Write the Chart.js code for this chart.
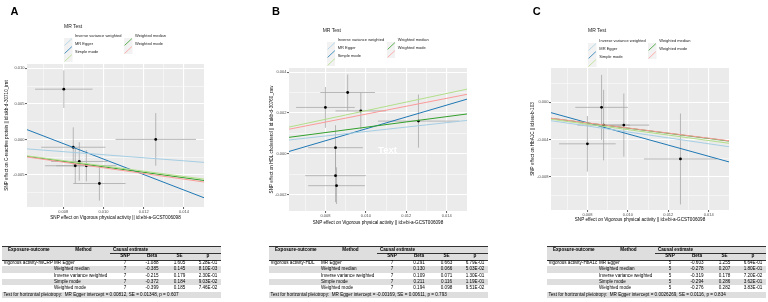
<!DOCTYPE html>
<html><head><meta charset="utf-8">
<script src="https://cdn.jsdelivr.net/npm/chart.js"></script>
<style>
body{margin:0;width:768px;height:302px;background:#fff;position:relative;overflow:hidden;font-family:"Liberation Sans",Arial,sans-serif}
#page{position:absolute;left:0;top:0;width:768px;height:302px;will-change:transform}
.lab{position:absolute;font-weight:bold;font-size:11px;line-height:11px;color:#000}
.lgt{position:absolute;font-size:5px;line-height:5px;color:#222;white-space:nowrap}
.lgi{position:absolute;font-size:4px;line-height:4px;color:#222;white-space:nowrap}
.key{position:absolute}
.tb{position:absolute;font-size:4.6px;color:#000;will-change:transform}
.tb .row{position:absolute;left:0;height:6.4px}
.tb span{position:absolute;top:0;line-height:6.4px;white-space:pre;z-index:2}
.tb .c{width:40px;text-align:center}
.tb .rule{position:absolute;height:0;z-index:1}
</style></head><body>
<div id="page"></div>
<script>
// shared x axis (exposure: Vigorous physical activity)
const xRange = [0.0062, 0.015];
const xTicks = [0.008, 0.010, 0.012, 0.014];
const xTickLabels = ['0.008', '0.010', '0.012', '0.014'];
const xMinor = [0.007, 0.009, 0.011, 0.013];
const xTitle = 'SNP effect on Vigorous physical activity || id:ebi-a-GCST006098';

const methods = ['MR Egger', 'Weighted median', 'Inverse variance weighted', 'Simple mode', 'Weighted mode'];
const methodColors = ['#1F78B4', '#33A02C', '#A6CEE3', '#B2DF8A', '#FB9A99'];
const legendCol1 = ['Inverse variance weighted', 'MR Egger', 'Simple mode'];
const legendCol2 = ['Weighted median', 'Weighted mode'];

// A: hsCRP
const aX   = [0.00803, 0.0126, 0.0085, 0.0088, 0.0086, 0.00915, 0.0098];
const aY   = [0.00706, 0.0000, -0.0011, -0.0031, -0.0037, -0.0037, -0.0062];
const aXse = [0.00143, 0.0020, 0.0016, 0.0014, 0.0015, 0.0015, 0.0013];
const aYse = [0.00264, 0.0037, 0.0028, 0.0027, 0.0025, 0.0022, 0.0024];
const aYRange = [-0.0095, 0.0106];
const aYTicks = [0.010, 0.005, 0.000, -0.005];
const aYTickLabels = ['0.010', '0.005', '0.000', '-0.005'];
const aYMinor = [0.0075, 0.0025, -0.0025, -0.0075];
const aYTitle = 'SNP effect on C-reactive protein || id:ukb-d-30710_irnt';
const aExposure = 'Vigorous activity-hsCRP';
const aNsnp = 7;
const aBeta = [-1.088, -0.385, -0.215, -0.372, -0.399];
const aSE = [1.605, 0.145, 0.179, 0.184, 0.185];
const aP = ['5.28E-01', '8.10E-03', '2.30E-01', '9.03E-02', '7.46E-02'];
const aEggerInt = 0.00812;
const aFooter = 'Test for horizontal pleiotropy:  MR Egger intercept = 0.00812, SE = 0.01348, p = 0.607';

// B: HDL
const bX   = [0.0080, 0.0091, 0.00975, 0.0126, 0.0085, 0.0085, 0.00855];
const bY   = [0.00227, 0.0030, 0.0021, 0.0016, 0.0003, -0.00107, -0.00156];
const bXse = [0.00145, 0.00135, 0.00125, 0.0020, 0.00135, 0.0015, 0.0014];
const bYse = [0.0010, 0.00088, 0.0009, 0.0013, 0.0011, 0.0013, 0.0009];
const bYRange = [-0.0028, 0.0042];
const bYTicks = [0.004, 0.002, 0.000, -0.002];
const bYTickLabels = ['0.004', '0.002', '0.000', '-0.002'];
const bYMinor = [0.003, 0.001, -0.001];
const bYTitle = 'SNP effect on HDL cholesterol || id:ukb-d-30760_raw';
const bExposure = 'Vigorous activity-HDL';
const bNsnp = 7;
const bBeta = [0.291, 0.130, 0.109, 0.211, 0.194];
const bSE = [0.663, 0.066, 0.071, 0.116, 0.098];
const bP = ['6.79E-01', '5.03E-02', '1.30E-01', '1.19E-01', '9.51E-02'];
const bEggerInt = -0.00169;
const bFooter = 'Test for horizontal pleiotropy:  MR Egger intercept = -0.00169, SE = 0.00611, p = 0.793';
const bNote = {x: 0.01107, y: 0.00015, text: 'Text'};

// C: HbA1c
const cX   = [0.0087, 0.0088, 0.0098, 0.0080, 0.0126];
const cY   = [-0.00054, -0.00245, -0.00245, -0.00447, -0.0061];
const cXse = [0.0013, 0.0013, 0.00125, 0.0014, 0.0018];
const cYse = [0.0035, 0.0038, 0.0034, 0.0030, 0.0049];
const cYRange = [-0.0116, 0.0037];
const cYTicks = [0.000, -0.004, -0.008];
const cYTickLabels = ['0.000', '-0.004', '-0.008'];
const cYMinor = [0.002, -0.002, -0.006, -0.010];
const cYTitle = 'SNP effect on HbA1C || id:ieu-b-103';
const cExposure = 'Vigorous activity-HbA1c';
const cNsnp = 5;
const cBeta = [-0.603, -0.278, -0.319, -0.294, -0.276];
const cSE = [1.255, 0.207, 0.178, 0.286, 0.282];
const cP = ['6.64E-01', '1.80E-01', '7.20E-02', '3.62E-01', '3.83E-01'];
const cEggerInt = 0.0026269;
const cFooter = 'Test for horizontal pleiotropy:  MR Egger intercept = 0.0026269, SE = 0.0116, p = 0.834';

Chart.defaults.font.family = '"Liberation Sans", Arial, sans-serif';
Chart.defaults.animation = false;

const page = document.getElementById('page');

const panels = [
  {lab: 'A', labX: 10.5, geo: {l: 27, t: 64, r: 204, b: 207, ytx: 7, xty: 218},
   leg: {x: 64, y: 26, tx: 75, tx2: 135}, tabX: 2,
   x: aX, y: aY, xse: aXse, yse: aYse, yr: aYRange, yt: aYTicks, ytl: aYTickLabels, ym: aYMinor, yTitle: aYTitle,
   expo: aExposure, n: aNsnp, beta: aBeta, se: aSE, p: aP, egg: aEggerInt, foot: aFooter},
  {lab: 'B', labX: 272, geo: {l: 289, t: 68, r: 467, b: 211, ytx: 272, xty: 222.7},
   leg: {x: 322.7, y: 30, tx: 337.7, tx2: 397.7}, tabX: 269,
   x: bX, y: bY, xse: bXse, yse: bYse, yr: bYRange, yt: bYTicks, ytl: bYTickLabels, ym: bYMinor, yTitle: bYTitle,
   expo: bExposure, n: bNsnp, beta: bBeta, se: bSE, p: bP, egg: bEggerInt, foot: bFooter, note: bNote},
  {lab: 'C', labX: 532.7, geo: {l: 551, t: 68, r: 729, b: 210, ytx: 532.7, xty: 220},
   leg: {x: 588, y: 30.7, tx: 599.3, tx2: 659.3}, tabX: 547,
   x: cX, y: cY, xse: cXse, yse: cYse, yr: cYRange, yt: cYTicks, ytl: cYTickLabels, ym: cYMinor, yTitle: cYTitle,
   expo: cExposure, n: cNsnp, beta: cBeta, se: cSE, p: cP, egg: cEggerInt, foot: cFooter},
];

function el(tag, cls, css, html) {
  const e = document.createElement(tag);
  if (cls) e.className = cls;
  if (css) e.style.cssText = css;
  if (html != null) e.innerHTML = html;
  return e;
}

function tickList(major, labels, minor) {
  return major.map((v, i) => ({value: v, lab: labels[i]}))
    .concat(minor.map(v => ({value: v, lab: '', minor: true})));
}

function axis(range, tks, title, pad, sizeKey, size) {
  return {
    type: 'linear', min: range[0], max: range[1], bounds: 'data',
    afterBuildTicks: s => { s.ticks = tks.map(o => Object.assign({}, o)); },
    afterFit: s => { s[sizeKey] = size; },
    grid: {
      color: '#fff',
      lineWidth: c => (c.tick && c.tick.minor ? 0.5 : 1.1),
      tickLength: 2,
      tickWidth: 0.8,
      tickColor: c => (c.tick && c.tick.minor ? 'rgba(0,0,0,0)' : '#333'),
    },
    border: {display: false},
    ticks: {autoSkip: false, maxRotation: 0, padding: 0.5, color: '#4d4d4d', font: {size: 4},
            callback: (v, i, t) => t[i].lab},
    title: {display: true, text: title, color: '#000', font: {size: 4.6}, padding: pad},
  };
}

function makeChart(p) {
  const g = p.geo, yw = 28, xh = 22, pt = 8, pr = 6, lh = 4.6 * 1.2;
  const W = g.r - g.l + yw + pr, H = g.b - g.t + pt + xh;
  const left = g.l - yw, top = g.t - pt;
  const cv = el('canvas', null, `position:absolute;left:${left}px;top:${top}px;width:${W}px;height:${H}px`);
  cv.width = W; cv.height = H;
  page.append(cv);

  const lines = methods.map((m, i) => ({
    label: m,
    data: xRange.map(x => ({x, y: (i === 0 ? p.egg : 0) + p.beta[i] * x})),
    showLine: true, pointRadius: 0, borderColor: methodColors[i], borderWidth: 1, order: 5 - i,
  }));
  const pts = {
    label: 'SNP', data: p.x.map((v, i) => ({x: v, y: p.y[i]})),
    pointRadius: 1.4, pointBackgroundColor: '#000', pointBorderWidth: 0, order: 10,
  };

  const panelBg = {
    id: 'panelBg',
    beforeDraw(c) {
      const a = c.chartArea, ctx = c.ctx;
      ctx.save(); ctx.fillStyle = '#EBEBEB'; ctx.fillRect(a.left, a.top, a.width, a.height); ctx.restore();
    }
  };
  const errBars = {
    id: 'errBars',
    beforeDatasetsDraw(c) {
      const {ctx, chartArea: a, scales: {x, y}} = c;
      ctx.save();
      ctx.beginPath(); ctx.rect(a.left, a.top, a.width, a.height); ctx.clip();
      ctx.strokeStyle = '#a8a8a8'; ctx.lineWidth = 0.8;
      p.x.forEach((xv, i) => {
        const px = x.getPixelForValue(xv), py = y.getPixelForValue(p.y[i]);
        ctx.beginPath();
        ctx.moveTo(x.getPixelForValue(xv - p.xse[i]), py);
        ctx.lineTo(x.getPixelForValue(xv + p.xse[i]), py);
        ctx.moveTo(px, y.getPixelForValue(p.y[i] - p.yse[i]));
        ctx.lineTo(px, y.getPixelForValue(p.y[i] + p.yse[i]));
        ctx.stroke();
      });
      ctx.restore();
    }
  };
  const note = {
    id: 'note',
    afterDatasetsDraw(c) {
      if (!p.note) return;
      const {ctx, scales: {x, y}} = c;
      ctx.save();
      ctx.font = 'bold 9.5px "Liberation Sans", Arial, sans-serif';
      ctx.fillStyle = '#fff'; ctx.textAlign = 'center'; ctx.textBaseline = 'middle';
      ctx.fillText(p.note.text, x.getPixelForValue(p.note.x), y.getPixelForValue(p.note.y));
      ctx.restore();
    }
  };

  new Chart(cv, {
    type: 'scatter',
    data: {datasets: [...lines, pts]},
    options: {
      responsive: false, animation: false, events: [],
      layout: {padding: {top: pt, right: pr, left: 0, bottom: 0}, autoPadding: false},
      plugins: {legend: {display: false}, tooltip: {enabled: false}},
      scales: {
        x: axis(xRange, tickList(xTicks, xTickLabels, xMinor), xTitle,
                {top: 0, bottom: (g.b + xh) - g.xty - lh / 2}, 'height', xh),
        y: axis(p.yr, tickList(p.yt, p.ytl, p.ym), p.yTitle,
                {top: g.ytx - left - lh / 2, bottom: 0}, 'width', yw),
      },
    },
    plugins: [panelBg, errBars, note],
  });
}

function keySvg(color) {
  return `<svg width="8.5" height="8" viewBox="0 0 8.5 8"><rect width="8.5" height="8" fill="#F2F2F2"/>` +
         `<line x1="0.6" y1="7.4" x2="7.9" y2="0.6" stroke="${color}" stroke-width="0.8"/></svg>`;
}

function makeLegend(p) {
  const L = p.leg;
  page.append(el('div', 'lgt', `left:${L.x}px;top:${L.y - 2.5}px`, 'MR Test'));
  const put = (names, tx) => names.forEach((m, r) => {
    const cy = L.y + 10 + r * 8;
    const col = methodColors[methods.indexOf(m)];
    page.append(el('div', 'key', `left:${tx - 11}px;top:${cy - 4}px;width:8.5px;height:8px`, keySvg(col)));
    page.append(el('div', 'lgi', `left:${tx}px;top:${cy - 2}px`, m));
  });
  put(legendCol1, L.tx);
  put(legendCol2, L.tx2);
}

function makeTable(p) {
  const w = 219, rh = 6.4, top = 247;
  const tb = el('div', 'tb', `left:${p.tabX}px;top:${top}px;width:${w}px;height:${rh * 8}px`);
  const gray = '#DEDEDE';
  const row = (i, bg) => {
    const r = el('div', 'row', `top:${i * rh}px;width:${w}px;background:${bg || 'transparent'}`);
    tb.append(r); return r;
  };
  const txt = (r, s, x, center, bold) => {
    const sp = el('span', center ? 'c' : null, `left:${center ? x - 20 : x}px`);
    sp.textContent = s;
    if (bold) sp.style.fontWeight = 'bold';
    r.append(sp);
  };
  const rule = (x, y, len, wd) =>
    tb.append(el('div', 'rule', `left:${x}px;top:${y}px;width:${len}px;border-top:${wd}px solid #333`));
  const cols = {snp: 123, beta: 150, se: 177.5, p: 206};
  const h1 = row(0, gray);
  txt(h1, 'Exposure-outcome', 26, true, true);
  txt(h1, 'Method', 81.5, true, true);
  txt(h1, 'Causal estimate', 111, false, true);
  const h2 = row(1, gray);
  txt(h2, 'SNP', cols.snp, true, true);
  txt(h2, 'Beta', cols.beta, true, true);
  txt(h2, 'SE', cols.se, true, true);
  txt(h2, 'p', cols.p, true, true);
  methods.forEach((m, i) => {
    const r = row(2 + i, i % 2 ? gray : null);
    if (i === 0) txt(r, p.expo, 1.5, false, false);
    txt(r, m, 52, false, false);
    txt(r, String(p.n), cols.snp, true);
    txt(r, p.beta[i].toFixed(3), cols.beta, true);
    txt(r, p.se[i].toFixed(3), cols.se, true);
    txt(r, p.p[i], cols.p, true);
  });
  const f = row(7, gray);
  txt(f, p.foot, 1.5, false, false);
  rule(0, -0.8, w, 0.8);
  rule(108, rh - 0.3, w - 108, 0.6);
  rule(0, 2 * rh - 0.3, w, 0.6);
  page.append(tb);
}

panels.forEach(p => {
  page.append(el('div', 'lab', `left:${p.labX}px;top:5.7px`, p.lab));
  makeChart(p);
  makeLegend(p);
  makeTable(p);
});
</script>
</body></html>
